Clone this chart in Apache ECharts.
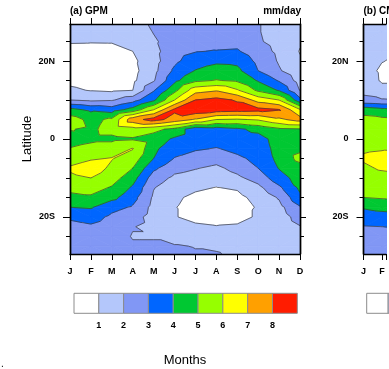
<!DOCTYPE html>
<html><head><meta charset="utf-8">
<script src="https://cdn.jsdelivr.net/npm/echarts@6/dist/echarts.min.js"></script>
<style>html,body{margin:0;padding:0;background:#fff}#c{width:389px;height:369px}</style>
</head><body><div id="c"></div>
<script>
// ---------- data ----------
const monthValues = [1,2,3,4,5,6,7,8,9,10,11,12];
const monthLabels = ['J','F','M','A','M','J','J','A','S','O','N','D'];
const lats = [29.5,27.5,25,22.5,20,17.5,15,12.5,10,7.5,5,2.5,0,-2.5,-5,-7.5,-10,-12.5,-15,-17.5,-20,-22.5,-25,-27.5,-29.5];
const latTickValues = [-20,0,20];
const latTickLabels = ['20S','0','20N'];
const latMinorTicks = [-25,-20,-15,-10,-5,0,5,10,15,20,25];
const levels = [1,2,3,4,5,6,7,8];
const bandColors = ['#ffffff','#b4c7fb','#8197f5','#0066ff','#00c832','#96ff00','#ffff00','#ffa000','#ff1c00'];

// (a) GPM, mm/day, one array per month, values at the latitudes above
const gpmJan = [1.5,1.3,1.05,0.8,0.65,0.6,0.8,1.15,2.0,4.3,5.5,5.05,4.6,5.05,5.5,6.15,5.78,5.4,4.6,4.0,3.2,2.6,2.5,2.4,2.35];
const gpmFeb = [1.5,1.25,1.04,0.75,0.55,0.5,0.65,0.95,1.8,3.8,4.7,4.85,4.8,5.3,5.9,6.5,6.0,5.4,4.85,4.1,3.4,2.85,2.6,2.45,2.4];
const gpmMar = [1.5,1.25,1.05,0.75,0.55,0.5,0.6,0.85,1.9,3.5,5.2,5.3,4.8,5.5,6.05,5.8,5.45,4.9,4.3,3.3,2.8,2.5,2.4,2.3,2.25];
const gpmApr = [1.5,1.3,1.1,1.0,0.8,0.7,0.8,0.99,2.6,4.4,7.6,5.6,4.9,6.05,5.5,5.0,4.4,3.85,3.35,2.9,2.4,2.05,1.95,2.1,2.2];
const gpmMay = [2.2,2.05,1.85,1.7,1.6,1.7,1.9,2.9,3.8,6.0,8.4,5.3,4.5,4.2,4.0,3.2,2.5,2.05,1.85,1.7,1.6,1.7,1.95,2.1,2.2];
const gpmJun = [2.5,2.5,2.5,2.6,2.8,3.2,3.75,4.7,6.0,8.2,7.6,4.7,3.85,3.4,2.95,2.3,1.8,1.4,1.15,1.05,1.05,1.2,1.5,2.1,2.3];
const gpmJul = [2.4,2.5,2.65,2.95,3.5,4.05,4.8,6.6,8.0,8.7,6.9,3.3,3.3,3.1,2.6,2.05,1.6,1.15,0.8,0.6,0.75,1.15,1.5,1.95,2.1];
const gpmAug = [2.3,2.45,2.6,3.05,3.8,4.45,5.05,6.9,8.3,8.5,6.0,3.5,3.35,2.95,2.35,1.8,1.4,0.97,0.6,0.45,0.6,1.05,1.45,1.8,2.1];
const gpmSep = [2.3,2.45,2.7,3.1,3.75,4.25,4.85,6.1,7.9,8.4,5.9,3.8,3.4,3.2,2.85,2.3,1.8,1.1,0.75,0.55,0.75,1.1,1.4,1.6,1.7];
const gpmOct = [2.05,2.05,2.1,2.4,2.75,3.0,3.9,4.8,6.6,8.3,6.1,4.3,3.55,3.4,3.2,3.0,2.4,1.75,1.3,1.1,1.1,1.2,1.35,1.5,1.6];
const gpmNov = [1.6,1.65,1.7,1.8,1.9,2.1,2.9,3.9,6.0,8.05,6.8,4.8,4.5,4.4,4.3,4.05,3.6,2.8,2.1,1.7,1.5,1.4,1.4,1.45,1.5];
const gpmDec = [1.5,1.3,1.1,0.95,1.1,1.3,1.6,1.95,3.3,6.1,7.4,4.9,4.6,4.8,5.3,4.6,4.4,4.2,3.8,2.9,2.4,1.95,1.7,1.6,1.55];

// (b) second panel, only its first months are visible
const cmapJan = [1.6,1.5,1.4,1.3,1.2,1.25,1.4,1.8,2.2,4.6,5.3,5.6,5.8,5.9,6.1,5.85,5.6,5.4,5.0,4.1,3.5,2.95,2.6,2.5,2.4];
const cmapFeb = [1.5,1.4,1.25,1.1,1.02,0.9,0.92,1.2,2.1,4.3,5.2,5.5,5.8,5.95,6.2,6.1,5.7,5.45,5.1,4.3,3.6,3.0,2.65,2.5,2.4];
const cmapMar = [1.5,1.35,1.2,1.0,0.9,0.8,0.85,1.2,2.0,4.0,5.1,5.4,5.7,5.9,6.3,6.2,5.8,5.5,5.2,4.4,3.7,3.05,2.7,2.5,2.4];

const gpmCols = [gpmJan,gpmFeb,gpmMar,gpmApr,gpmMay,gpmJun,gpmJul,gpmAug,gpmSep,gpmOct,gpmNov,gpmDec];
const cmapCols = [cmapJan,cmapFeb,cmapMar];

// ---------- helpers ----------
function buildCells(cols){
  const cells=[];
  for(let i=0;i<cols.length-1;i++){
    for(let j=0;j<lats.length-1;j++){
      cells.push([monthValues[i],lats[j],monthValues[i+1],lats[j+1],
        cols[i][j],cols[i+1][j],cols[i][j+1],cols[i+1][j+1]]);
    }
  }
  return cells;
}
function clipPoly(poly,t,keepAbove){
  const out=[];
  for(let k=0;k<poly.length;k++){
    const a=poly[k], b=poly[(k+1)%poly.length];
    const ain = keepAbove ? a.v>=t : a.v<=t;
    const bin = keepAbove ? b.v>=t : b.v<=t;
    if(ain) out.push(a);
    if(ain!==bin){
      const f=(t-a.v)/(b.v-a.v);
      out.push({x:a.x+f*(b.x-a.x), y:a.y+f*(b.y-a.y), v:t});
    }
  }
  return out;
}
function cellTris(api){
  const x0=api.value(0), y0=api.value(1), x1=api.value(2), y1=api.value(3);
  const p00=api.coord([x0,y0]), p10=api.coord([x1,y0]), p01=api.coord([x0,y1]), p11=api.coord([x1,y1]);
  const A={x:p00[0],y:p00[1],v:api.value(4)}, B={x:p10[0],y:p10[1],v:api.value(5)};
  const C={x:p01[0],y:p01[1],v:api.value(6)}, D={x:p11[0],y:p11[1],v:api.value(7)};
  // split along the diagonal joining the higher pair of corners
  if((B.v+C.v) > (A.v+D.v)) return [[A,B,C],[B,D,C]];
  return [[A,B,D],[A,D,C]];
}
function renderFill(params,api){
  const children=[];
  cellTris(api).forEach(tri=>{
    for(let k=0;k<=levels.length;k++){
      let poly=tri;
      if(k>0) poly=clipPoly(poly,levels[k-1],true);
      if(poly.length>=3 && k<levels.length) poly=clipPoly(poly,levels[k],false);
      if(poly.length>=3){
        children.push({type:'polygon',shape:{points:poly.map(p=>[p.x,p.y])},
          style:{fill:bandColors[k],stroke:bandColors[k],lineWidth:0.8}});
      }
    }
  });
  return {type:'group',children};
}
function renderLines(params,api){
  const children=[];
  cellTris(api).forEach(tri=>{
    levels.forEach(t=>{
      const pts=[];
      for(let k=0;k<3;k++){
        const a=tri[k], b=tri[(k+1)%3];
        if((a.v>=t)!==(b.v>=t)){
          const f=(t-a.v)/(b.v-a.v);
          pts.push([a.x+f*(b.x-a.x), a.y+f*(b.y-a.y)]);
        }
      }
      if(pts.length===2){
        children.push({type:'line',shape:{x1:pts[0][0],y1:pts[0][1],x2:pts[1][0],y2:pts[1][1]},
          style:{stroke:'#3c3c3c',lineWidth:0.7}});
      }
    });
  });
  return {type:'group',children};
}
function renderBox(params,api){
  const p0=api.coord([api.value(0),0]);
  const p1=api.coord([api.value(1),1]);
  return {type:'rect',shape:{x:p0[0],y:p1[1],width:p1[0]-p0[0],height:p0[1]-p1[1]},
    style:{fill:bandColors[api.value(2)],stroke:'#8c8c8c',lineWidth:1}};
}

const FONT='Liberation Sans';
const latMin=-29.5, latMax=29.5;
function xAxisFor(gridIndex,position,withLabels,maxMonth){
  return {gridIndex,type:'value',position,min:1,max:maxMonth,interval:1,
    axisLine:{show:true,onZero:false,lineStyle:{color:'#000',width:1.4}},
    axisTick:{show:true,inside:false,length:6,lineStyle:{color:'#000',width:1}},
    axisLabel: withLabels ? {show:true,margin:13,lineHeight:10,fontSize:9,fontWeight:'bold',fontFamily:FONT,color:'#000',
      formatter:v=>Number.isInteger(v)?(monthLabels[v-1]||''):''} : {show:false},
    splitLine:{show:false},z:10};
}
function yAxisFor(gridIndex,position,tickValues,tickLen,withLabels){
  return {gridIndex,type:'value',position,min:latMin,max:latMax,
    axisLine:{show:true,onZero:false,lineStyle:{color:'#000',width:1.4}},
    axisTick:{show:true,inside:false,length:tickLen,customValues:tickValues,lineStyle:{color:'#000',width:1}},
    axisLabel: withLabels ? {show:true,customValues:latTickValues,margin:15,fontSize:9,fontWeight:'bold',fontFamily:FONT,color:'#000',
      formatter:v=>latTickLabels[latTickValues.indexOf(v)]} : {show:false},
    splitLine:{show:false},z:10};
}
function cbXAxis(gridIndex,maxVal){
  return {gridIndex,type:'value',min:0,max:maxVal,interval:1,
    axisLine:{show:false},axisTick:{show:false},splitLine:{show:false},
    axisLabel:{margin:7,lineHeight:10,fontSize:9,fontWeight:'bold',fontFamily:FONT,color:'#000',
      formatter:v=>(Number.isInteger(v)&&v>=1&&v<=levels.length)?String(levels[v-1]):''}};
}
function cbYAxis(gridIndex){
  return {gridIndex,type:'value',min:0,max:1,show:false};
}
const boxData = bandColors.map((c,k)=>[k,k+1,k]);

// panel (b) continues beyond the right edge of the picture
const pxPerMonth = 230/11, pxPerBox = 223.3/9;
const bLeft = 363.5, bBarLeft = 366.7;
const bMaxMonth = 1 + (389 - bLeft)/pxPerMonth;
const bMaxBox = (389 - bBarLeft)/pxPerBox;

const chart=echarts.init(document.getElementById('c'),null,{renderer:'canvas',width:389,height:369});
chart.setOption({
  animation:false,
  backgroundColor:'#fff',
  grid:[
    {left:70,top:24,width:230,height:230},
    {left:bLeft,top:24,right:0,height:230},
    {left:74,top:293.3,width:223.3,height:20},
    {left:bBarLeft,top:293.3,right:0,height:20}
  ],
  xAxis:[xAxisFor(0,'bottom',true,12),xAxisFor(0,'top',false,12),xAxisFor(1,'bottom',true,bMaxMonth),xAxisFor(1,'top',false,bMaxMonth),cbXAxis(2,levels.length+1),cbXAxis(3,bMaxBox)],
  yAxis:[
    yAxisFor(0,'left',latMinorTicks,4,false),yAxisFor(0,'left',latTickValues,7,true),
    yAxisFor(0,'right',latMinorTicks,4,false),yAxisFor(0,'right',latTickValues,6,false),
    yAxisFor(1,'left',latMinorTicks,4,false),yAxisFor(1,'left',latTickValues,7,true),
    cbYAxis(2),cbYAxis(3)
  ],
  series:[
    {type:'custom',xAxisIndex:0,yAxisIndex:0,clip:true,z:2,renderItem:renderFill,data:buildCells(gpmCols),encode:{x:[0,2],y:[1,3]},silent:true},
    {type:'custom',xAxisIndex:0,yAxisIndex:0,clip:true,z:3,renderItem:renderLines,data:buildCells(gpmCols),encode:{x:[0,2],y:[1,3]},silent:true},
    {type:'custom',xAxisIndex:2,yAxisIndex:4,clip:true,z:2,renderItem:renderFill,data:buildCells(cmapCols),encode:{x:[0,2],y:[1,3]},silent:true},
    {type:'custom',xAxisIndex:2,yAxisIndex:4,clip:true,z:3,renderItem:renderLines,data:buildCells(cmapCols),encode:{x:[0,2],y:[1,3]},silent:true},
    {type:'custom',xAxisIndex:4,yAxisIndex:6,renderItem:renderBox,data:boxData,encode:{x:[0,1]},silent:true},
    {type:'custom',xAxisIndex:5,yAxisIndex:7,renderItem:renderBox,data:boxData,encode:{x:[0,1]},silent:true}
  ],
  graphic:[
    {type:'text',left:70,top:6,style:{text:'(a) GPM',font:'bold 10px "Liberation Sans"',fill:'#000'}},
    {type:'text',right:88,top:6,style:{text:'mm/day',font:'bold 10px "Liberation Sans"',fill:'#000'}},
    {type:'text',x:bLeft,y:11,style:{text:'(b) CMAP',font:'bold 10px "Liberation Sans"',fill:'#000',align:'left',verticalAlign:'middle'}},
    {type:'text',x:27,y:139,rotation:Math.PI/2,style:{text:'Latitude',font:'13px "Liberation Sans"',fill:'#000',align:'center',verticalAlign:'middle'}},
    {type:'text',x:185,y:360,style:{text:'Months',font:'13px "Liberation Sans"',fill:'#000',align:'center',verticalAlign:'middle'}},
    {type:'text',x:1,y:364,style:{text:'.',font:'10px "Liberation Sans"',fill:'#000',align:'left',verticalAlign:'middle'}}
  ]
});
</script></body></html>
